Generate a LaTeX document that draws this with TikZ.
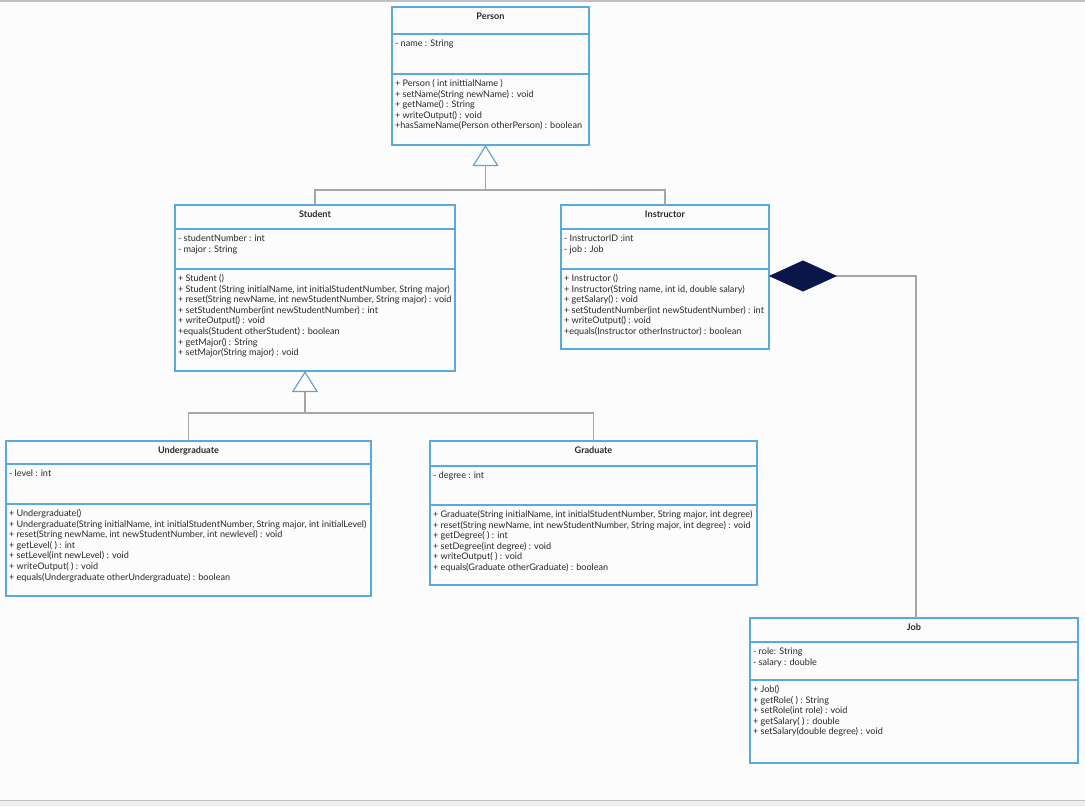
\documentclass[tikz,border=0pt]{standalone}
\usepackage{fontspec}
\setmainfont{Lato}
\usetikzlibrary{arrows.meta,calc,positioning}

\definecolor{boxblue}{RGB}{88,170,222}
\definecolor{linegray}{RGB}{166,166,166}
\definecolor{triblue}{RGB}{110,160,205}
\definecolor{navy}{RGB}{10,22,74}
\definecolor{txtgray}{RGB}{40,40,40}
\definecolor{pagebg}{RGB}{252,252,252}
\definecolor{stripgray}{RGB}{239,239,239}
\definecolor{edgegray}{RGB}{190,192,196}

% class compartments: width, height, text
\newcommand{\umltitle}[3]{\parbox[t][#2][t]{#1}{\centering\vspace*{5.5pt}\strut\bfseries #3}}
\newcommand{\umlbody}[3]{\parbox[t][#2][t]{#1}{\vspace*{5pt}\hspace*{3pt}\begin{tabular}[t]{@{}l@{}}#3\end{tabular}}}

\tikzset{
  umlpart/.style={draw=boxblue, line width=1.5pt, inner sep=0pt, outer sep=0pt,
    anchor=north west, font=\fontsize{9.1}{10.6}\selectfont, text=txtgray},
  genline/.style={draw=linegray, line width=1.4pt},
  inherit/.style={genline, -{Triangle[length=21pt, width=26pt, color=triblue, fill=white, line width=1.2pt]}},
  compose/.style={genline, {Diamond[length=68pt, width=31pt, color=navy, fill=navy, line width=0.5pt]}-},
}

\begin{document}
\begin{tikzpicture}[x=1pt, y=-1pt]
% page
\useasboundingbox (0,0) rectangle (1085,806);
\fill[pagebg] (0,0) rectangle (1085,806);
\fill[stripgray] (0,800) rectangle (1085,806);
\draw[edgegray, line width=1pt] (0,800) -- (1085,800);
\draw[edgegray, line width=1.5pt] (0,0.75) -- (1085,0.75);

% Person
\node[umlpart] (person-t) at (392,7) {\umltitle{197pt}{27pt}{Person}};
\node[umlpart, below=0pt of person-t] (person-a) {\umlbody{197pt}{40pt}{- name : String}};
\node[umlpart, below=0pt of person-a] (person-o) {\umlbody{197pt}{71pt}{%
  + Person ( int inittialName )\\
  + setName(String newName) : void\\
  + getName() : String\\
  + writeOutput() : void\\
  +hasSameName(Person otherPerson) : boolean}};

% Student
\node[umlpart] (student-t) at (175,205) {\umltitle{280pt}{24pt}{Student}};
\node[umlpart, below=0pt of student-t] (student-a) {\umlbody{280pt}{40pt}{%
  - studentNumber : int\\
  - major : String}};
\node[umlpart, below=0pt of student-a] (student-o) {\umlbody{280pt}{102pt}{%
  + Student ()\\
  + Student (String initialName, int initialStudentNumber, String major)\\
  + reset(String newName, int newStudentNumber, String major) : void\\
  + setStudentNumber(int newStudentNumber) : int\\
  + writeOutput() : void\\
  +equals(Student otherStudent) : boolean\\
  + getMajor() : String\\
  + setMajor(String major) : void}};

% Instructor
\node[umlpart] (instructor-t) at (561,205) {\umltitle{208pt}{24pt}{Instructor}};
\node[umlpart, below=0pt of instructor-t] (instructor-a) {\umlbody{208pt}{40pt}{%
  - InstructorID :int\\
  - job : Job}};
\node[umlpart, below=0pt of instructor-a] (instructor-o) {\umlbody{208pt}{80pt}{%
  + Instructor ()\\
  + Instructor(String name, int id, double salary)\\
  + getSalary() : void\\
  + setStudentNumber(int newStudentNumber) : int\\
  + writeOutput() : void\\
  +equals(Instructor otherInstructor) : boolean}};

% Undergraduate
\node[umlpart] (under-t) at (6,441) {\umltitle{365pt}{23pt}{Undergraduate}};
\node[umlpart, below=0pt of under-t] (under-a) {\umlbody{365pt}{40pt}{- level : int}};
\node[umlpart, below=0pt of under-a] (under-o) {\umlbody{365pt}{92pt}{%
  + Undergraduate()\\
  + Undergraduate(String initialName, int initialStudentNumber, String major, int initialLevel)\\
  + reset(String newName, int newStudentNumber, int newlevel) : void\\
  + getLevel( ) : int\\
  + setLevel(int newLevel) : void\\
  + writeOutput( ) : void\\
  + equals(Undergraduate otherUndergraduate) : boolean}};

% Graduate
\node[umlpart] (grad-t) at (430,441) {\umltitle{327pt}{25pt}{Graduate}};
\node[umlpart, below=0pt of grad-t] (grad-a) {\umlbody{327pt}{39pt}{- degree : int}};
\node[umlpart, below=0pt of grad-a] (grad-o) {\umlbody{327pt}{80pt}{%
  + Graduate(String initialName, int initialStudentNumber, String major, int degree)\\
  + reset(String newName, int newStudentNumber, String major, int degree) : void\\
  + getDegree( ) : int\\
  + setDegree(int degree) : void\\
  + writeOutput( ) : void\\
  + equals(Graduate otherGraduate) : boolean}};

% Job
\node[umlpart] (job-t) at (750,618) {\umltitle{328pt}{24pt}{Job}};
\node[umlpart, below=0pt of job-t] (job-a) {\umlbody{328pt}{38pt}{%
  - role: String\\
  - salary : double}};
\node[umlpart, below=0pt of job-a] (job-o) {\umlbody{328pt}{83pt}{%
  + Job()\\
  + getRole( ) : String\\
  + setRole(int role) : void\\
  + getSalary( ) : double\\
  + setSalary(double degree) : void}};

% inheritance
\coordinate (pjoin) at ($(person-o.south)+(-5,45)$);
\draw[genline] (student-t.north) |- (pjoin) -| (instructor-t.north);
\draw[inherit] (pjoin) -- (pjoin |- person-o.south);

\coordinate (sjoin) at ($(student-o.south)+(-10,42)$);
\draw[genline] (under-t.north) |- (sjoin) -| (grad-t.north);
\draw[inherit] (sjoin) -- (sjoin |- student-o.south);

% composition
\coordinate (hasjob) at ($(instructor-o.north east)+(0,7)$);
\draw[compose] (hasjob) -| ([xshift=2pt]job-t.north);

\end{tikzpicture}
\end{document}
